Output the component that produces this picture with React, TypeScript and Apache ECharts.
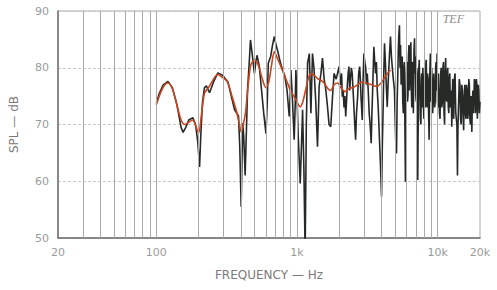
import React, { useEffect, useRef } from "react";
import * as echarts from "echarts";

// Measured response (black trace): frequency in Hz and SPL in dB
const FREQ_HZ: number[] = [
  100, 105, 112, 121, 130, 140, 150, 155, 162, 170, 182, 190, 197, 203, 207, 213, 220, 227, 239, 255,
  274, 295, 323, 345, 360, 384, 392, 401, 406, 411, 418, 428, 436, 445, 459, 467, 480, 498, 510, 520,
  540, 560, 580, 602, 615, 625, 650, 670, 690, 710, 737, 760, 791, 820, 850, 881, 895, 905, 930, 955,
  970, 982, 1000, 1020, 1054, 1075, 1096, 1120, 1143, 1165, 1189, 1224, 1256, 1289, 1320, 1360, 1399, 1437, 1480, 1518,
  1560, 1603, 1650, 1690, 1738, 1790, 1835, 1900, 1990, 2020, 2050, 2075, 2100, 2130, 2160, 2190, 2220, 2250, 2280, 2310,
  2340, 2370, 2400, 2435, 2470, 2505, 2540, 2575, 2610, 2650, 2700, 2745, 2790, 2820, 2850, 2880, 2910, 2950, 2990, 3035,
  3080, 3120, 3160, 3210, 3260, 3310, 3370, 3410, 3450, 3485, 3520, 3570, 3620, 3670, 3720, 3780, 3850, 3920, 3990, 4040,
  4090, 4140, 4190, 4235, 4280, 4330, 4380, 4440, 4500, 4560, 4620, 4690, 4760, 4840, 4930,
  5000, 5050, 5100, 5150, 5200, 5250, 5290, 5350, 5400, 5450, 5500, 5550, 5600, 5650, 5700, 5750, 5800, 5850, 5900, 5950,
  6000, 6050, 6100, 6150, 6200, 6250, 6300, 6350, 6400, 6450, 6500, 6550, 6600, 6650, 6720, 6790, 6850, 6900, 6950, 7000,
  7050, 7100, 7150, 7180, 7220, 7260, 7300, 7350, 7400, 7450, 7500, 7550, 7600, 7650, 7700, 7750, 7800, 7850, 7900, 7950,
  8000, 8050, 8100, 8150, 8200, 8250, 8300, 8350, 8400, 8470, 8550, 8620, 8700, 8780, 8870, 8930, 9000, 9070, 9150, 9220,
  9300, 9370, 9450, 9520, 9600, 9680, 9750, 9820, 9900, 9970, 10050, 10120, 10200, 10300, 10400, 10500, 10600, 10700, 10800, 10900,
  11000, 11100, 11200, 11300, 11400, 11500, 11600, 11700, 11800, 11900, 12000, 12100, 12200, 12300, 12400, 12500, 12600, 12700, 12800, 12900,
  13000, 13150, 13300, 13450, 13600, 13700, 13830, 13950, 14100, 14250, 14400, 14550, 14700, 14850, 15000, 15150, 15300, 15450, 15600, 15750,
  15900, 16050, 16200, 16350, 16500, 16650, 16800, 16950, 17100, 17300, 17500, 17650, 17800, 17950, 18100, 18250, 18400, 18550, 18700, 18850,
  19000, 19150, 19300, 19450, 19600, 19800, 20000,
];
const SPL_DB: number[] = [
  73.7, 75.5, 77, 77.6, 76.5, 73.5, 69.5, 68.6, 69.5, 70.8, 71.2, 70, 67, 62.5, 68, 74, 76.5, 76.8, 75.6, 77.5,
  79.1, 78.7, 77.5, 74.5, 72.6, 71.5, 66, 55.5, 63, 70.2, 68, 61, 68, 76, 81.5, 84.9, 82.5, 79, 81, 82.2,
  80.2, 76, 72, 68.4, 74, 80.8, 82, 84, 85.5, 84, 82.5, 81, 79.6, 78.5, 76, 71.4, 75, 79.6, 74, 67.3,
  73, 79.6, 75, 68, 59.6, 66, 72.6, 62, 47, 70, 80.8, 82.5, 72, 82.5, 80, 74, 66.1, 76.7, 79, 81.7,
  78, 76.1, 73, 70, 69.6, 75, 79, 78, 80.2, 78, 77, 79, 74.9, 76, 73, 75, 71.4, 74, 77, 79,
  80.2, 76, 78, 80, 79, 76, 73, 70, 67.3, 72, 75, 79, 80.2, 78, 75, 73, 70.8, 78, 82.5, 81,
  80, 77, 79, 76, 72, 70, 66.7, 72, 76, 80, 83.7, 81, 79, 81, 76.1, 73, 68, 63, 57.3, 66,
  72, 79, 84.3, 82, 79, 76, 73.1, 77, 80, 83, 85.5, 82, 80, 78, 76.1,
  70, 66, 64.9, 74, 78, 83, 85.5, 87.5, 80, 84, 77, 81, 82, 74, 72, 80, 81, 70, 59.9, 70,
  79, 81, 74, 75, 82, 84, 76, 78, 83, 84.5, 76, 73, 81, 80, 72, 83, 85.2, 79, 82, 75,
  74, 80, 79, 70, 60.2, 68, 72, 80, 81.4, 75, 77, 71, 70, 78, 79, 73, 74, 80, 80, 72,
  71, 78, 79, 73, 75, 81, 81.4, 74, 73, 79, 78, 72, 67.3, 78, 82.5, 74, 75, 80, 80, 72,
  72, 79, 79, 73, 74, 80, 81, 76, 82.5, 74, 73, 79, 79, 72, 71, 79, 80, 73, 74, 80,
  81, 72, 70, 79, 81.7, 75, 74, 79, 80, 73, 72, 78, 79, 73, 73, 76, 69.6, 75, 78, 72,
  71, 78, 79, 72, 72, 70, 61, 70, 74, 78, 77, 71, 70, 77, 76, 72, 69, 75, 77, 72,
  71, 77, 76, 71, 72, 78, 77, 71, 70, 75, 68.7, 74, 76, 72, 72, 78, 77.5, 72, 73, 78,
  77, 71, 71, 77, 76, 72, 74,
];

// Smoothed response (red trace)
const SMOOTH_FREQ_HZ: number[] = [
  100, 108, 115, 121, 130, 140, 150, 160, 172, 182, 192, 200, 210, 220, 235, 255, 272, 295, 320, 345,
  370, 390, 400, 415, 430, 450, 470, 500, 530, 560, 600, 630, 660, 690, 730, 790, 850, 900, 950, 1000,
  1054, 1100, 1150, 1200, 1250, 1320, 1400, 1480, 1560, 1650, 1740, 1835, 1950, 2050, 2200, 2350, 2500, 2700, 2900, 3100,
  3400, 3700, 4000, 4200, 4400, 4620,
];
const SMOOTH_DB: number[] = [
  73.5, 75.8, 77, 77.3, 76.3, 73.5, 70.8, 70, 70.5, 70.8, 69.5, 68.5, 72, 75.5, 76.5, 78, 78.8, 78.3, 77.5, 75,
  72.5, 70, 68.7, 70, 72, 77, 80.5, 81.4, 80.5, 78.5, 76.5, 77.5, 80.5, 82.8, 81.5, 79.5, 77.5, 76, 75, 74,
  73.1, 74, 76, 78, 79, 78.7, 78.1, 77.8, 77.3, 76.4, 76, 77, 77.3, 76.5, 75.8, 76.4, 76.5, 77, 77.5, 77.3,
  77, 76.7, 77.5, 78.3, 79, 79.6,
];

// Vertical grid line positions (log grid)
const GRID_FREQ_HZ: number[] = [
  30, 40, 50, 60, 70, 80, 90, 100, 200, 300, 400, 500, 600, 700, 800, 900, 1000,
  2000, 3000, 4000, 5000, 6000, 7000, 8000, 9000, 10000,
];

const X_MIN = 20;
const X_MAX = 20000;
const Y_MIN = 50;
const Y_MAX = 90;
const Y_STEP = 10;

export default function App() {
  const ref = useRef<HTMLDivElement>(null);

  useEffect(() => {
    document.body.style.margin = "0";
    if (!ref.current) return;
    const chart = echarts.init(ref.current, null, { renderer: "svg" });

    const measured = FREQ_HZ.map((f, i) => [f, SPL_DB[i]]);
    const smooth = SMOOTH_FREQ_HZ.map((f, i) => [f, SMOOTH_DB[i]]);

    const labelColor = "#9a9a9a";
    const font = "DejaVu Sans";

    chart.setOption({
      animation: false,
      backgroundColor: "#ffffff",
      grid: {
        left: 56,
        right: 17,
        top: 11,
        bottom: 52,
        show: true,
        borderColor: "#a8a8a8",
        borderWidth: 1,
        backgroundColor: "transparent",
      },
      xAxis: {
        type: "log",
        logBase: 10,
        min: X_MIN,
        max: X_MAX,
        name: "FREQUENCY — Hz",
        nameLocation: "middle",
        nameGap: 31,
        nameTextStyle: { color: "#7a7a7a", fontSize: 12, fontFamily: font },
        axisLine: { show: true, lineStyle: { color: "#6f6f6f", width: 1.5 } },
        axisTick: { show: false },
        splitLine: { show: false },
        axisLabel: {
          color: labelColor,
          fontSize: 11,
          fontFamily: font,
          margin: 9,
          formatter: (v: number) => {
            const r = Math.round(v);
            return r >= 1000 ? `${Math.round(r / 1000)}k` : `${r}`;
          },
        },
      },
      yAxis: {
        type: "value",
        min: Y_MIN,
        max: Y_MAX,
        interval: Y_STEP,
        name: "SPL — dB",
        nameLocation: "middle",
        nameGap: 38,
        nameRotate: 90,
        nameTextStyle: { color: "#7a7a7a", fontSize: 12, fontFamily: font },
        axisLine: { show: true, lineStyle: { color: "#6f6f6f", width: 1.5 } },
        axisTick: { show: false },
        axisLabel: { color: labelColor, fontSize: 11, fontFamily: font, margin: 9 },
        splitLine: { show: true, lineStyle: { color: "#c9c9c9", width: 1, type: [3, 2] } },
      },
      graphic: [
        {
          type: "text",
          right: 33,
          top: 13,
          style: {
            text: "TEF",
            fill: "#8c8c8c",
            font: "italic 12px 'Liberation Serif'",
          },
        },
      ],
      series: [
        {
          type: "line",
          data: [],
          silent: true,
          markLine: {
            silent: true,
            symbol: ["none", "none"],
            label: { show: false },
            lineStyle: { color: "#a9a9a9", width: 1, type: "solid" },
            data: GRID_FREQ_HZ.map((f) => ({ xAxis: f })),
          },
          z: 1,
        },
        {
          name: "measured",
          type: "line",
          data: measured,
          showSymbol: false,
          symbol: "none",
          clip: true,
          lineStyle: { color: "#262a27", width: 1.6 },
          z: 3,
        },
        {
          name: "smoothed",
          type: "line",
          data: smooth,
          showSymbol: false,
          symbol: "none",
          smooth: 0.3,
          clip: true,
          lineStyle: { color: "#c8441f", width: 1.6 },
          z: 4,
        },
      ],
    });

    return () => chart.dispose();
  }, []);

  return <div ref={ref} style={{ width: 497, height: 290 }} />;
}
